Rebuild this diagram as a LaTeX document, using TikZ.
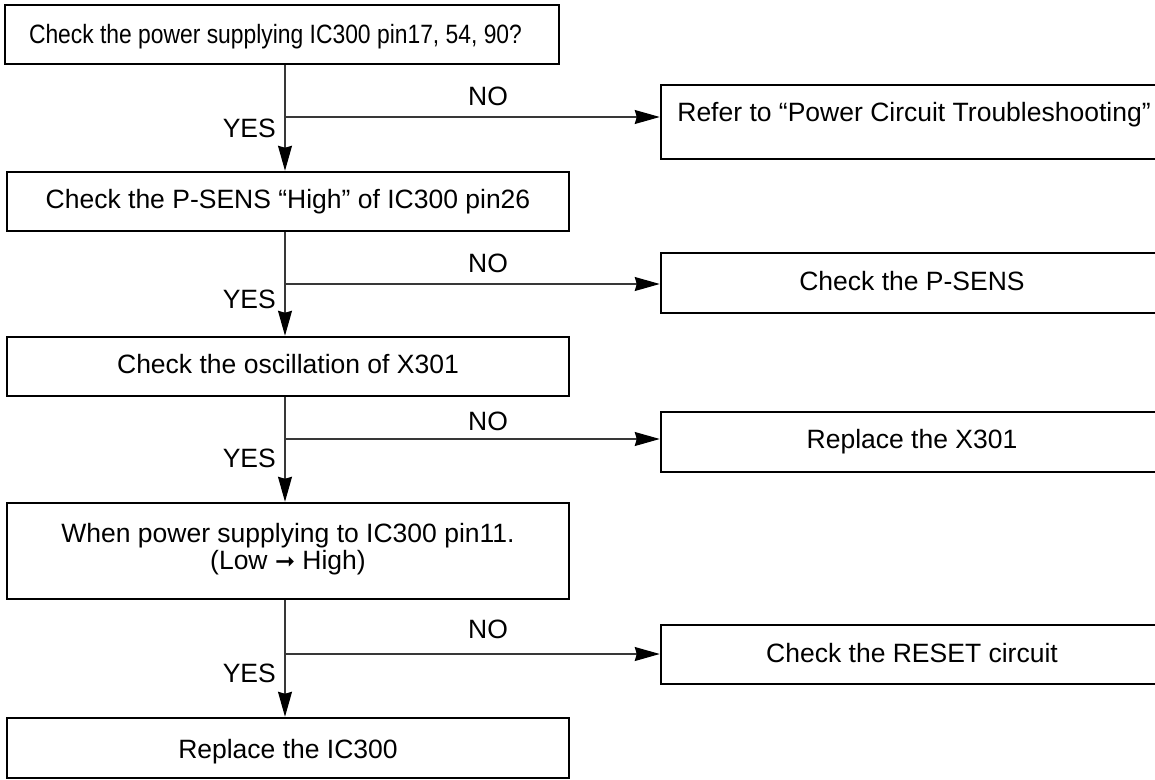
\documentclass[tikz,border=0pt]{standalone}
\usepackage{fontspec}
\usepackage{graphicx}
\setmainfont{Liberation Sans}
\newfontfamily\arrowfont{DejaVu Sans}
\usetikzlibrary{arrows.meta}

\newcommand\mainfs{\fontsize{26.5pt}{26pt}\selectfont}

\tikzset{
  box/.style={draw=black, line width=2.5pt, inner xsep=0pt, inner ysep=0pt,
              font=\mainfs, anchor=center},
  leftbox/.style={box, minimum width=562pt},
  rightbox/.style={box, minimum width=502pt},
  conn/.style={draw=black!78, line width=1.3pt},
  arr/.style={conn, -{Stealth[length=25pt,width=14pt,inset=2pt,black]}},
  lbl/.style={font=\mainfs, inner sep=0pt},
}

\begin{document}
\begin{tikzpicture}[x=1pt,y=-1pt]
  \useasboundingbox (0,0) rectangle (1155,779);
  \clip (0,0) rectangle (1155,779);

  % main column of checks
  \node[box, minimum width=554pt, text height=38pt, text depth=21pt] (b1) at (282,34.5)
    {\resizebox{493pt}{\height}{Check the power supplying IC300 pin17, 54, 90?}\hspace*{13pt}};
  \node[leftbox, text height=36pt, text depth=23pt] (b2) at (288,201.5)
    {Check the P-SENS “High” of IC300 pin26};
  \node[leftbox, text height=36pt, text depth=23pt] (b3) at (288,366.5)
    {Check the oscillation of X301};
  \node[leftbox, text height=39pt, text depth=57pt] (b4) at (288,551)
    {\begin{tabular}[t]{@{}c@{}}When power supplying to IC300 pin11.\\(Low {\arrowfont\fontsize{24pt}{24pt}\selectfont ➞} High)\end{tabular}};
  \node[leftbox, text height=40pt, text depth=20pt] (b5) at (288,748)
    {Replace the IC300};

  % remedies on the NO side
  \node[rightbox, text height=36pt, text depth=38pt] (r1) at (912,122)
    {\hspace*{4pt}Refer to “Power Circuit Troubleshooting”};
  \node[rightbox, text height=37pt, text depth=23pt] (r2) at (912,283)
    {Check the P-SENS};
  \node[rightbox, text height=36pt, text depth=24pt] (r3) at (912,442)
    {Replace the X301};
  \node[rightbox, text height=37pt, text depth=22pt] (r4) at (912,654.5)
    {Check the RESET circuit};

  % branch points on the main line
  \coordinate (j1) at (285,117);
  \coordinate (j2) at (285,284);
  \coordinate (j3) at (285,439);
  \coordinate (j4) at (285,654);

  % YES: straight down
  \draw[arr] (b1.south -| j1) -- (b2.north -| j1);
  \draw[arr] (b2.south -| j2) -- (b3.north -| j2);
  \draw[arr] (b3.south -| j3) -- (b4.north -| j3);
  \draw[arr] (b4.south -| j4) -- (b5.north -| j4);

  % NO: off to the right
  \draw[arr] (j1) -- (j1 -| r1.west);
  \draw[arr] (j2) -- (j2 -| r2.west);
  \draw[arr] (j3) -- (j3 -| r3.west);
  \draw[arr] (j4) -- (j4 -| r4.west);

  % branch labels
  \node[lbl, anchor=base] (n1) at (488,105) {NO};
  \node[lbl, anchor=base] (n2) at (488,272) {NO};
  \node[lbl, anchor=base] (n3) at (488,430) {NO};
  \node[lbl, anchor=base] (n4) at (488,638) {NO};
  \node[lbl, anchor=base east] (y1) at (276,137) {YES};
  \node[lbl, anchor=base east] (y2) at (276,308) {YES};
  \node[lbl, anchor=base east] (y3) at (276,467) {YES};
  \node[lbl, anchor=base east] (y4) at (276,682) {YES};
\end{tikzpicture}
\end{document}
